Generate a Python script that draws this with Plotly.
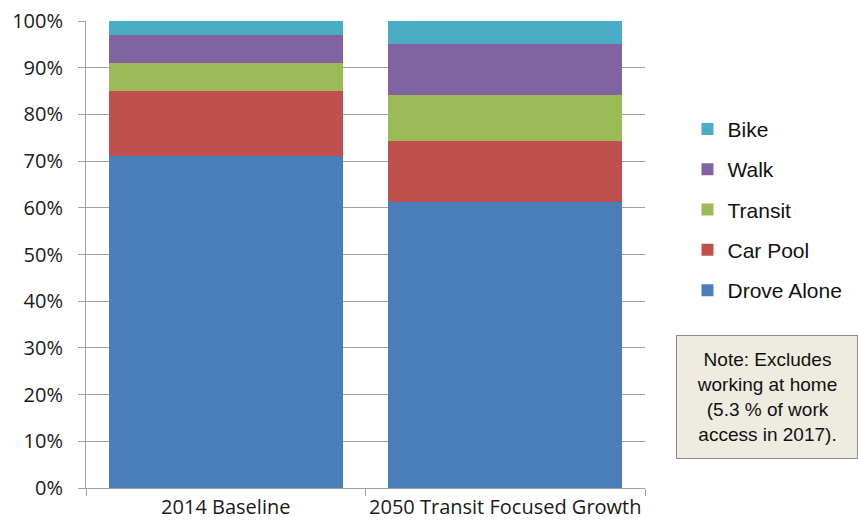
import plotly.graph_objects as go

categories = ["2014 Baseline", "2050 Transit Focused Growth"]
modes = ["Drove Alone", "Car Pool", "Transit", "Walk", "Bike"]
drove_alone = [71.0, 61.3]
car_pool = [14.0, 12.9]
transit = [6.0, 9.9]
walk = [6.0, 10.9]
bike = [3.0, 5.0]
y_ticks = [0, 10, 20, 30, 40, 50, 60, 70, 80, 90, 100]
y_tick_labels = [f"{t}%" for t in y_ticks]
note_text = "Note: Excludes<br>working at home<br>(5.3 % of work<br>access in 2017)."

series = [drove_alone, car_pool, transit, walk, bike]
colors = ["#4a7ebb", "#c0504d", "#9bbb59", "#8064a2", "#4bacc6"]

fig = go.Figure()
for i, (name, vals, col) in enumerate(zip(modes, series, colors)):
    fig.add_trace(go.Bar(
        x=categories, y=vals, name=name, legendgroup=name,
        legendrank=len(modes) - i,
        marker=dict(color=col, line=dict(width=0)),
    ))

fig.update_layout(
    barmode="stack",
    bargap=0.164,
    width=858, height=520,
    margin=dict(l=86, r=213, t=21, b=32, autoexpand=False),
    paper_bgcolor="white", plot_bgcolor="white",
    font=dict(family="Open Sans, Noto Sans, sans-serif", size=20, color="#1a1a1a"),
    showlegend=True,
    legend=dict(
        traceorder="grouped",
        tracegroupgap=10,
        x=1.076, xanchor="left", y=0.812, yanchor="top",
        font=dict(family="Liberation Sans, Arial", size=21, color="#111"),
        itemwidth=30,
        bgcolor="rgba(0,0,0,0)",
    ),
    yaxis=dict(
        range=[0, 100], tickvals=y_ticks, ticktext=y_tick_labels,
        showgrid=True, gridcolor="#a0a0a0", gridwidth=1,
        showline=True, linecolor="#a0a0a0", linewidth=1,
        ticks="outside", ticklen=7, tickcolor="#a0a0a0",
        ticklabelstandoff=11,
        zeroline=False, fixedrange=True, automargin=False,
    ),
    xaxis=dict(
        showline=True, linecolor="#a0a0a0", linewidth=1,
        ticks="outside", tickson="boundaries", ticklen=7, tickcolor="#a0a0a0",
        tickangle=0, ticklabelstandoff=1, automargin=False, fixedrange=True,
    ),
    annotations=[dict(
        text=note_text, xref="paper", yref="paper",
        x=1.2174, y=0.1938, xanchor="center", yanchor="middle",
        showarrow=False, align="center", valign="middle",
        font=dict(family="Liberation Sans, Arial", size=19, color="#111"),
        bgcolor="#eeebe0", bordercolor="#8c8c8c", borderwidth=1, borderpad=5,
        width=170, height=112,
    )],
)

fig.write_html("out.html", config={"displayModeBar": False},
               post_script="document.body.style.margin='0px';")
